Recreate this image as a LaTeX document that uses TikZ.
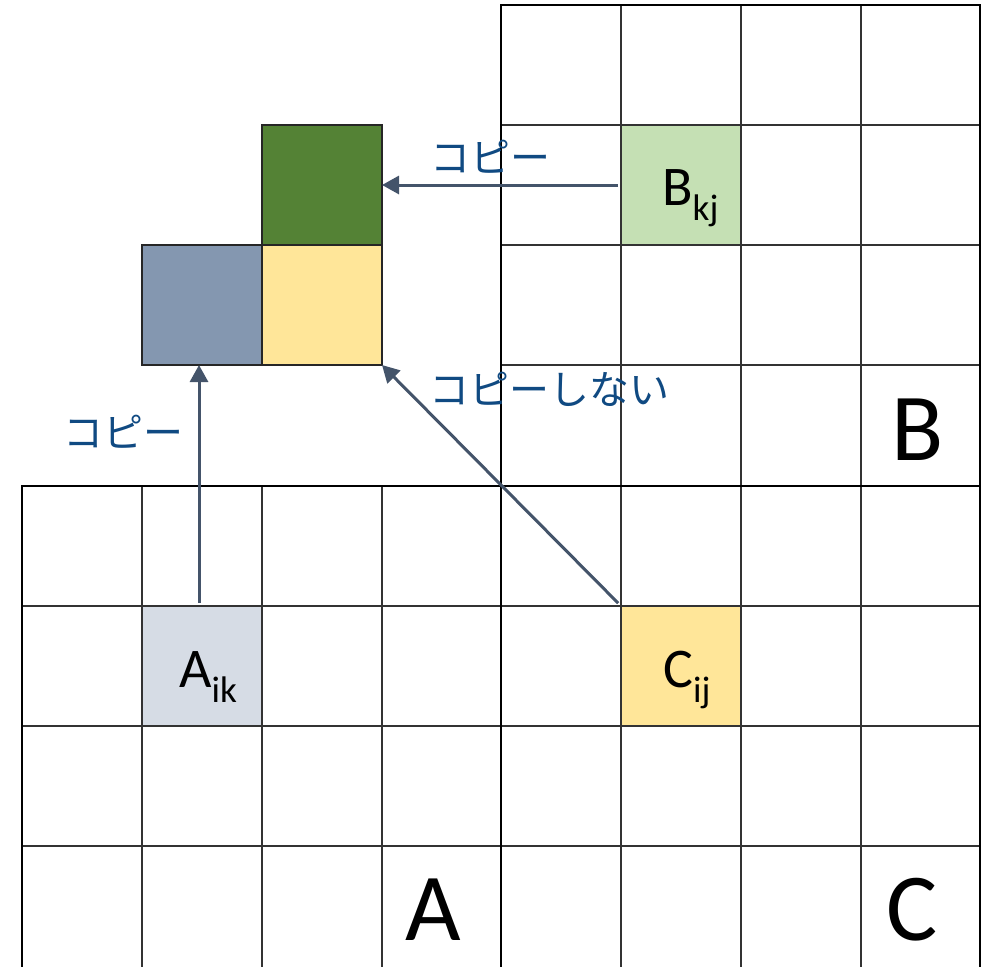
\documentclass[tikz,border=0pt]{standalone}
\usepackage{fontspec}
\setmainfont{Carlito}
\newfontfamily\jpfont{Noto Sans CJK JP}
\usetikzlibrary{arrows.meta}
\definecolor{dgreen}{HTML}{548235}
\definecolor{lgreen}{HTML}{C5E0B4}
\definecolor{bgray}{HTML}{8497B0}
\definecolor{lblue}{HTML}{D6DCE5}
\definecolor{lyellow}{HTML}{FFE699}
\definecolor{arrowc}{HTML}{44546A}
\definecolor{txtc}{RGB}{16,74,130}
\newcommand{\lowsub}[1]{\raisebox{-15pt}{\fontsize{37}{37}\selectfont #1}}
\begin{document}
\begin{tikzpicture}[x=1pt,y=-1pt,
  cell/.style={minimum width=120pt,minimum height=120pt,inner sep=0pt,outer sep=0pt},
  stack/.style={cell,draw=black!85,line width=1.4pt},
  inner/.style={draw=black!80,line width=1.3pt},
  outer/.style={draw=black,line width=2.8pt},
  arr/.style={draw=arrowc,line width=3pt,-{Triangle[length=17pt,width=18pt]}},
  jp/.style={text=txtc,font=\jpfont\fontsize{40}{40}\selectfont,inner sep=0pt},
  sublabel/.style={font=\fontsize{56}{56}\selectfont,anchor=base west,inner sep=0pt},
  biglabel/.style={font=\fontsize{96}{96}\selectfont,anchor=base west,inner sep=0pt}]
\useasboundingbox (0,0) rectangle (992,966);
\clip (0,0) rectangle (992,966);
% coloured cells
\node[cell,fill=lgreen] (Bkj) at (681,185) {};
\node[cell,fill=lblue] (Aik) at (202,666) {};
\node[cell,fill=lyellow] (Cij) at (681,666) {};
% grids
\foreach \x in {621,741,861} \draw[inner] (\x,5) -- (\x,970);
\foreach \y in {125,245,365} \draw[inner] (501,\y) -- (980,\y);
\foreach \y in {606,726,846} \draw[inner] (22,\y) -- (980,\y);
\foreach \x in {142,262,382} \draw[inner] (\x,486) -- (\x,970);
\draw[outer] (501,5) rectangle (980,486);
\draw[outer] (22,970) -- (22,486) -- (980,486);
\draw[outer] (501,486) -- (501,970);
\draw[outer] (980,486) -- (980,970);
% stacked squares
\node[stack,fill=dgreen] (G) at (322,185) {};
\node[stack,fill=bgray] (P) at (202,305) {};
\node[stack,fill=lyellow] (Y) at (322,305) {};
% labels
\node[sublabel] (lB) at (662,205) {B\lowsub{kj}};
\node[sublabel] (lA) at (179,687) {A\lowsub{ik}};
\node[sublabel] (lC) at (663,687) {C\lowsub{ij}};
\node[biglabel] (bA) at (405,940) {A};
\node[biglabel] (bB) at (891,460) {B};
\node[biglabel] (bC) at (886,940) {C};
\node[jp] (t1) at (490,157) {コピー};
\node[jp] (t2) at (123,432) {コピー};
\node[jp] (t3) at (549,389) {コピーしない};
% arrows
\draw[arr,shorten <=3pt] (Bkj.west) -- (G.east);
\draw[arr,shorten <=3pt] ([xshift=-3pt]Aik.north) -- ([xshift=-3pt]P.south);
\draw[arr,shorten <=4pt] (Cij.north west) -- (Y.south east);
\end{tikzpicture}
\end{document}
